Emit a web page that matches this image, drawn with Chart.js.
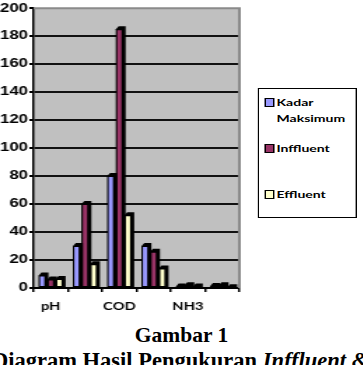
<!DOCTYPE html>
<html>
<head>
<meta charset="utf-8">
<script src="https://cdn.jsdelivr.net/npm/chart.js@4.4.1/dist/chart.umd.min.js"></script>
<style>
  html, body { margin: 0; padding: 0; background: #fff; width: 363px; height: 365px; overflow: hidden; }
  #wrap { position: absolute; left: 0; top: 0; width: 259px; height: 320px; transform: scaleX(1.4); transform-origin: 0 0; }
  #c { position: absolute; left: 0; top: 0; }
  #legend { position: absolute; left: 184px; top: 88px; width: 71px; height: 130px; border: 1px solid #000; background: #fff; box-sizing: border-box; font-family: Lato, sans-serif; font-weight: bold; font-size: 10px; color: #000; }
  .item { position: absolute; left: 0; width: 100%; }
  .sw { position: absolute; left: 3.5px; width: 5px; height: 7px; border: 1px solid #000; }
  .tx { position: absolute; left: 12.5px; line-height: 16px; white-space: nowrap; }
  .cap { position: absolute; font-family: "Liberation Serif", "Times New Roman", serif; font-weight: bold; color: #000; white-space: nowrap; }
</style>
</head>
<body>
<div id="wrap">
  <canvas id="c" width="259" height="320"></canvas>
  <div id="legend"></div>
</div>
<div class="cap" id="cap1" style="left:0; width:363px; text-align:center; top:325px; font-size:21.5px; line-height:21.5px;">Gambar 1</div>
<div class="cap" id="cap2" style="left:-8px; top:348.5px; font-size:22.5px; line-height:24px;">Diagram Hasil Pengukuran <i>Inffluent &amp; Effluent</i></div>
<script>
// ---- data ----
const categories = ['pH', 'BOD', 'COD', 'TSS', 'NH3', 'Minyak'];
const seriesNames = ['Kadar Maksimum', 'Inffluent', 'Effluent'];
const kadarMaksimum = [9, 30, 80, 30, 1, 1.5];
const inffluent = [6, 60, 185, 26, 2, 2];
const effluent = [6.5, 17, 52, 14, 1, 0.5];
const yTickMin = 0, yTickMax = 200, yTickStep = 20;
const seriesColors = ['#9999FF', '#993366', '#FFFFCC'];

// ---- legend (HTML, real text) ----
const legendRows = [
  { lines: ['Kadar', 'Maksimum'], top: 5 },
  { lines: ['Inffluent'], top: 51 },
  { lines: ['Effluent'], top: 97 }
];
const legendEl = document.getElementById('legend');
legendRows.forEach((row, i) => {
  const it = document.createElement('div');
  it.className = 'item';
  it.style.top = row.top + 'px';
  const sw = document.createElement('div');
  sw.className = 'sw';
  sw.style.top = '3.5px';
  sw.style.background = seriesColors[i];
  it.appendChild(sw);
  const tx = document.createElement('div');
  tx.className = 'tx';
  tx.style.top = '0px';
  tx.innerHTML = row.lines.join('<br>');
  it.appendChild(tx);
  legendEl.appendChild(it);
});

// ---- plugins ----
const plotBg = {
  id: 'plotBg',
  beforeDraw(chart) {
    const { ctx, chartArea: a } = chart;
    ctx.save();
    ctx.fillStyle = '#C0C0C0';
    ctx.fillRect(a.left, a.top, a.right - a.left, a.bottom - a.top);
    ctx.restore();
  },
  afterDraw(chart) {
    const { ctx, chartArea: a } = chart;
    ctx.save();
    ctx.strokeStyle = '#8a8a8a';
    ctx.lineWidth = 2;
    ctx.beginPath();
    ctx.moveTo(a.left, a.top);
    ctx.lineTo(a.right, a.top);
    ctx.lineTo(a.right, a.bottom);
    ctx.stroke();
    ctx.restore();
  }
};
const depth = {
  id: 'depth',
  beforeDatasetDraw(chart, args) {
    const ctx = chart.ctx;
    ctx.save();
    ctx.fillStyle = '#000';
    args.meta.data.forEach(bar => {
      const p = bar.getProps(['x', 'y', 'base', 'width'], true);
      const l = p.x - p.width / 2, r = p.x + p.width / 2;
      const dx = 2, dy = 3;
      ctx.beginPath();
      ctx.moveTo(l, p.y);
      ctx.lineTo(l + dx, p.y - dy);
      ctx.lineTo(r + dx, p.y - dy);
      ctx.lineTo(r + dx, p.base);
      ctx.lineTo(l, p.base);
      ctx.closePath();
      ctx.fill();
    });
    ctx.restore();
  }
};

new Chart(document.getElementById('c'), {
  type: 'bar',
  data: {
    labels: categories,
    datasets: [kadarMaksimum, inffluent, effluent].map((d, i) => ({
      label: seriesNames[i],
      data: d,
      backgroundColor: seriesColors[i],
      borderColor: '#000',
      borderWidth: 1,
      borderSkipped: false,
      categoryPercentage: 0.75,
      barPercentage: 0.82
    }))
  },
  options: {
    responsive: false,
    animation: false,
    devicePixelRatio: 1,
    layout: { padding: { top: 6, right: 88, left: 0, bottom: 0 } },
    plugins: { legend: { display: false }, tooltip: { enabled: false } },
    scales: {
      x: {
        afterFit(s) { s.height = 32; },
        grid: { offset: true, drawOnChartArea: false, drawTicks: true, tickLength: 4, color: '#000', lineWidth: 1.5 },
        border: { display: true, color: '#000', width: 2 },
        ticks: {
          autoSkip: false, maxRotation: 0, minRotation: 0, padding: 8,
          color: '#000',
          font: { family: 'Lato', weight: 'bold', size: 10.5 },
          callback(v, i) { return i % 2 === 0 ? categories[i] : ''; }
        }
      },
      y: {
        min: yTickMin, max: yTickMax,
        afterFit(s) { s.width = 24; },
        grid: {
          drawTicks: true, tickLength: 3, lineWidth: 2,
          color: (c) => (c.tick && c.tick.value === yTickMax) ? 'rgba(0,0,0,0)' : '#111',
          tickColor: '#000'
        },
        border: { display: true, color: '#000', width: 1.5 },
        ticks: {
          stepSize: yTickStep, padding: 1, color: '#000',
          font: { family: 'Liberation Sans', weight: 'bold', size: 12 }
        }
      }
    }
  },
  plugins: [plotBg, depth]
});
</script>
</body>
</html>
